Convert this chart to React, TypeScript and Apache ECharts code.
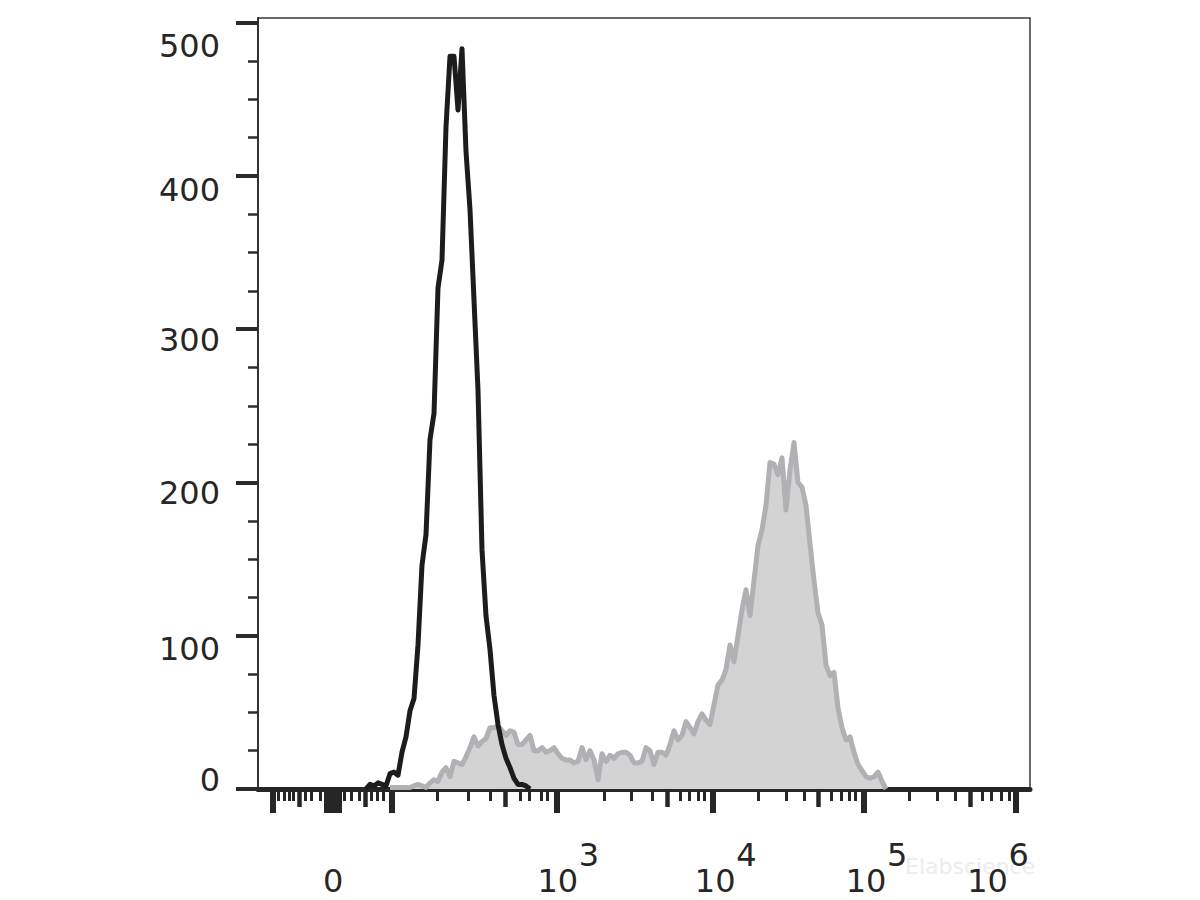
import React, { useEffect, useRef } from "react";
import * as echarts from "echarts";

// x: display channels of the biexponential scale (0 .. 193), y: cell counts
const X_MIN = 0;
const X_MAX = 193;
const Y_MAX = 503;

// black (control) histogram, first bin = channel 27
const blackStart = 27;
const blackCounts = [
  0, 3, 2, 4, 3, 2, 10, 11, 9, 24,
  34, 51, 59, 94, 146, 166, 228, 245, 327, 345,
  432, 478, 478, 443, 483, 416, 378, 319, 260, 156,
  113, 91, 61, 42, 29, 20, 14, 7, 3, 3,
  2, 0,
];

// gray filled (stained) histogram, first bin = channel 33
const grayStart = 33;
const grayCounts = [
  1, 1, 1, 1, 1, 1, 2, 3, 2, 1,
  4, 6, 5, 11, 14, 8, 18, 17, 16, 21,
  27, 34, 28, 31, 33, 40, 40, 41, 38, 35,
  38, 37, 29, 29, 32, 35, 25, 25, 27, 24,
  25, 27, 23, 20, 19, 19, 17, 18, 27, 19,
  25, 19, 6, 23, 18, 22, 20, 23, 24, 24,
  22, 17, 17, 18, 27, 25, 16, 24, 24, 22,
  29, 38, 32, 35, 44, 40, 36, 44, 49, 45,
  42, 55, 68, 71, 78, 94, 83, 100, 117, 130,
  113, 136, 159, 169, 185, 213, 212, 205, 216, 182,
  208, 226, 200, 197, 185, 160, 136, 115, 107, 81,
  74, 76, 53, 40, 32, 34, 24, 16, 12, 8,
  7, 8, 11, 5, 0,
];

// axis ticks (display channels)
const majorTicks = [3.6, 33.4, 74.7, 113.8, 151.5, 189.4];
const zeroBlockTicks = [18.8];
const mediumTicks = [10.25, 26.9, 61.75, 102.4, 140.1, 178];
const minorTicks = [
  5.1, 6.6, 7.8, 8.8, 11.75, 13.2, 15.5, 21.6, 23.25, 25.3, 28.4, 29.9, 31.3,
  44.9, 52.6, 58, 65.5, 67.75, 70.7, 72.3,
  86.6, 93.4, 98.6, 105.5, 107.8, 110.1, 111.5,
  125.1, 132, 136.6, 143.4, 145.75, 147.8, 149.4,
  162.8, 169.7, 174.25, 181.1, 183.4, 185.7, 187.8,
];
const xLabelValues = [18.8, 74.7, 113.8, 151.5, 189.4];
const xLabelBases = ["0", "10", "10", "10", "10"];
const xLabelExponents = ["", "3", "4", "5", "6"];

const yTicks = [0, 100, 200, 300, 400, 500];
const yMinorTicks = [
  25, 50, 75, 125, 150, 175, 225, 250, 275, 325, 350, 375, 425, 450, 475,
];

const FONT = "DejaVu Sans";
const TXT = "#262626";

export default function App() {
  const ref = useRef<HTMLDivElement>(null);

  useEffect(() => {
    if (!ref.current) return;
    const chart = echarts.init(ref.current, null, { renderer: "svg" });

    const blackData = blackCounts.map((v, i) => [blackStart + i, v]);
    const grayData = grayCounts.map((v, i) => [grayStart + i, v]);

    const yShift: Record<number, number> = { 0: -9, 100: 13, 200: 11, 300: 11, 400: 14, 500: 23 };
    const rich: Record<string, any> = {};
    yTicks.forEach((t) => {
      const s = yShift[t] || 0;
      rich["o" + t] = {
        fontSize: 32,
        fontFamily: FONT,
        color: TXT,
        padding: s >= 0 ? [2 * s, 0, 0, 0] : [0, 0, -2 * s, 0],
      };
    });

    const baseX = {
      type: "value",
      min: X_MIN,
      max: X_MAX,
      position: "bottom",
      gridIndex: 0,
      axisLabel: { show: false },
      splitLine: { show: false },
    };

    const option: any = {
      animation: false,
      backgroundColor: "#ffffff",
      grid: {
        left: 258,
        right: 170,
        top: 18,
        bottom: 111,
        show: true,
        borderColor: "#3a3a3a",
        borderWidth: 1.5,
        backgroundColor: "transparent",
      },
      xAxis: [
        {
          ...baseX,
          axisLine: { show: true, onZero: false, lineStyle: { color: "#262626", width: 5 } },
          axisTick: { show: true, customValues: majorTicks, length: 24, lineStyle: { color: "#262626", width: 6 } },
        },
        {
          ...baseX,
          axisLine: { show: false, onZero: false },
          axisTick: { show: true, customValues: zeroBlockTicks, length: 24, lineStyle: { color: "#262626", width: 18 } },
        },
        {
          ...baseX,
          axisLine: { show: false, onZero: false },
          axisTick: { show: true, customValues: mediumTicks, length: 18, lineStyle: { color: "#262626", width: 4.5 } },
        },
        {
          ...baseX,
          axisLine: { show: false, onZero: false },
          axisTick: { show: true, customValues: minorTicks, length: 12, lineStyle: { color: "#262626", width: 3 } },
        },
      ],
      yAxis: [
        {
          type: "value",
          min: 0,
          max: Y_MAX,
          position: "left",
          axisLine: { show: true, onZero: false, lineStyle: { color: "#333333", width: 2 } },
          axisTick: { show: true, customValues: yTicks, length: 22, lineStyle: { color: "#2b2b2b", width: 4 } },
          axisLabel: {
            show: true,
            customValues: yTicks,
            margin: 38,
            fontSize: 32,
            fontFamily: FONT,
            color: TXT,
            formatter: (v: number) => `{o${v}|${v}}`,
            rich,
          },
          splitLine: { show: false },
        },
        {
          type: "value",
          min: 0,
          max: Y_MAX,
          position: "left",
          axisLine: { show: false, onZero: false },
          axisTick: { show: true, customValues: yMinorTicks, length: 10, lineStyle: { color: "#2b2b2b", width: 2.5 } },
          axisLabel: { show: false },
          splitLine: { show: false },
        },
      ],
      series: [
        {
          name: "stained",
          type: "line",
          xAxisIndex: 0,
          yAxisIndex: 0,
          data: grayData,
          showSymbol: false,
          symbol: "none",
          lineStyle: { color: "#b1b1b5", width: 5, join: "round" },
          areaStyle: { color: "#d3d3d3", opacity: 1 },
          z: 2,
        },
        {
          name: "control",
          type: "line",
          xAxisIndex: 0,
          yAxisIndex: 0,
          data: blackData,
          showSymbol: false,
          symbol: "none",
          lineStyle: { color: "#1c1c1c", width: 5, join: "round" },
          z: 3,
        },
      ],
    };

    chart.setOption(option);

    const y0 = chart.convertToPixel({ yAxisIndex: 0 }, 0) as number;
    const labelDx = [0, 1, 2, 2, -28];
    const graphics: any[] = [
      {
        type: "text",
        x: 905,
        y: y0 + 77,
        z: 1,
        style: {
          text: "Elabscience",
          fontSize: 22,
          fontFamily: FONT,
          fill: "#ececec",
          align: "left",
          verticalAlign: "middle",
          textAlign: "left",
          textVerticalAlign: "middle",
        },
      },
    ];
    xLabelValues.forEach((v, i) => {
      const px = (chart.convertToPixel({ xAxisIndex: 0 }, v) as number) + labelDx[i];
      graphics.push({
        type: "text",
        x: px,
        y: y0 + 92,
        z: 5,
        style: {
          text: xLabelBases[i],
          fontSize: 32,
          fontFamily: FONT,
          fill: TXT,
          align: "center",
          verticalAlign: "middle",
          textAlign: "center",
          textVerticalAlign: "middle",
        },
      });
      if (xLabelExponents[i]) {
        graphics.push({
          type: "text",
          x: px + 21,
          y: y0 + 66,
          z: 5,
          style: {
            text: xLabelExponents[i],
            fontSize: 32,
            fontFamily: FONT,
            fill: TXT,
            align: "left",
            verticalAlign: "middle",
            textAlign: "left",
            textVerticalAlign: "middle",
          },
        });
      }
    });
    chart.setOption({ graphic: graphics });

    return () => chart.dispose();
  }, []);

  return (
    <div
      ref={ref}
      style={{ position: "fixed", left: 0, top: 0, width: 1200, height: 900, background: "#fff" }}
    />
  );
}
